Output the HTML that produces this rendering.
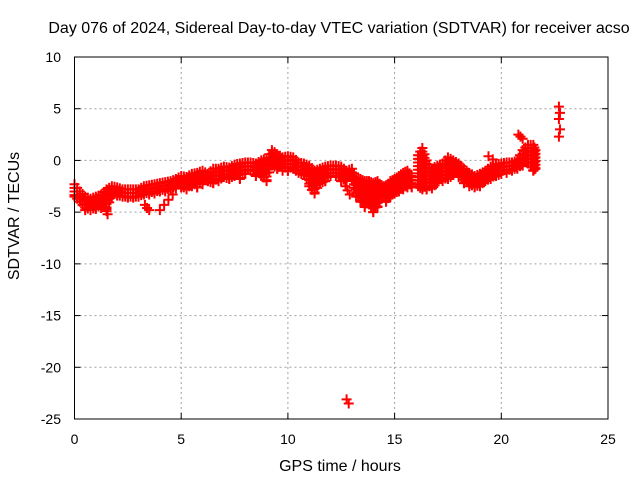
<!DOCTYPE html>
<html><head><meta charset="utf-8"><style>
html,body{margin:0;padding:0;background:#fff;}
svg{display:block;font-family:"Liberation Sans",sans-serif;}
</style></head><body>
<svg id="chart" width="640" height="480" viewBox="0 0 640 480" xmlns="http://www.w3.org/2000/svg">
<rect width="640" height="480" fill="#fff"/>
<g id="grid"></g>
<g id="points"></g>
<g id="axes"></g>
<text x="339" y="33" font-size="16" text-anchor="middle">Day 076 of 2024, Sidereal Day-to-day VTEC variation (SDTVAR) for receiver acso</text>
<text x="340" y="471" font-size="16" text-anchor="middle">GPS time / hours</text>
<text x="15" y="216" font-size="16" text-anchor="middle" dominant-baseline="middle" transform="rotate(-90 15 216)">SDTVAR / TECUs</text>
</svg>
<script>
const xTicks=[0,5,10,15,20,25];
const yTicks=[10,5,0,-5,-10,-15,-20,-25];
const times=[0,0.25,0.5,0.75,1,1.25,1.5,1.75,2,2.25,2.5,2.75,3,3.25,3.5,3.75,4,4.25,4.5,4.75,5,5.25,5.5,5.75,6,6.25,6.5,6.75,7,7.25,7.5,7.75,8,8.25,8.5,8.75,9,9.25,9.5,9.75,10,10.25,10.5,10.75,11,11.25,11.5,11.75,12,12.25,12.5,12.75,13,13.2,13.4,13.6,13.8,14,14.2,14.4,14.6,14.8,15,15.2,15.4,15.6,15.8,16.1,16.3,16.5,16.75,17,17.25,17.5,17.75,18,18.25,18.5,18.75,19,19.25,19.5,19.75,20,20.25,20.5,20.75,21,21.25,21.5,21.6];
const highs=[-2.3,-3,-3.5,-3.7,-3.5,-3.3,-2.8,-2.5,-2.6,-2.8,-2.8,-2.8,-2.8,-2.5,-2.4,-2.3,-2.2,-2.1,-2,-1.8,-1.5,-1.6,-1.3,-1.2,-1,-1.3,-0.8,-0.8,-0.6,-0.7,-0.4,-0.3,-0.2,-0.2,-0.3,0,0.2,1,0.6,0.3,0.4,0.3,-0.2,-0.3,-0.5,-1,-0.8,-0.6,-0.5,-0.5,-0.6,-1,-0.8,-1.7,-1.8,-2,-2,-2.2,-2,-2.5,-2.5,-2,-1.8,-1.5,-1.2,-1,-1.5,0.5,1.2,0,-0.8,-0.5,-0.3,0.3,0,-0.3,-0.8,-1.2,-1.5,-1.3,-1,-0.6,-0.4,-0.3,-0.2,-0.2,0,1,1.5,1.5,1];
const lows=[-3.5,-4,-4.8,-4.8,-4.7,-4.6,-4.7,-3.5,-3.4,-3.5,-3.6,-3.6,-3.5,-3.3,-3.3,-3.2,-3,-3,-2.8,-2.7,-2.6,-2.8,-2.5,-2.6,-2.3,-2,-2.2,-2,-1.6,-1.8,-1.5,-1.8,-1.3,-1,-1.5,-1.5,-2,-0.5,-0.8,-1,-1,-0.8,-1.2,-1.4,-2.5,-3.2,-2.2,-2,-1.5,-1.5,-2,-2,-1.8,-3.5,-4,-4.5,-4.2,-5,-4.5,-3.5,-4,-3.5,-3.2,-3,-2.8,-2.6,-2.6,-2.5,-2.8,-2.8,-2.7,-2.2,-2,-1.8,-1.4,-1.6,-2.2,-2.5,-2.6,-2.5,-2,-1.8,-1.5,-1.3,-1.2,-1,-0.8,-0.5,-0.3,-1,-0.8];
const extraT=[3.3,3.4,3.5,4.0,4.2,4.4,4.6,12.7,12.8,12.9,19.4,19.6,20.8,20.9,21.0,22.7,22.75,22.7,22.75,22.7,12.75,12.85,1.5,1.55];
const extraV=[-4.3,-4.6,-4.8,-4.8,-4.3,-3.8,-3.3,-2.5,-2.9,-3.3,0.4,0.1,2.5,2.3,2.1,5.2,4.6,4.0,3.0,2.3,-23.1,-23.5,-4.9,-5.2];
const NS='http://www.w3.org/2000/svg';
const X0=74.5,X1=608,Y0=57,Y1=419;
const xs=t=>X0+(t-0)/(25-0)*(X1-X0);
const ys=v=>Y0+(10-v)/(10-(-25))*(Y1-Y0);
function mk(tag,attrs,parent){const e=document.createElementNS(NS,tag);for(const k in attrs)e.setAttribute(k,attrs[k]);parent.appendChild(e);return e;}
const grid=document.getElementById('grid'),axes=document.getElementById('axes'),pts=document.getElementById('points');
xTicks.forEach(t=>{
 const x=xs(t);
 if(t>0&&t<25){const g=mk('line',{x1:x,x2:x,y1:Y0,y2:Y1,stroke:'#a0a0a0','stroke-dasharray':'2,3','stroke-width':1},grid);
 
 }
 mk('line',{x1:x,x2:x,y1:Y1,y2:Y1-6,stroke:'#000'},axes);
 mk('line',{x1:x,x2:x,y1:Y0,y2:Y0+6,stroke:'#000'},axes);
 const l=mk('text',{x:x,y:Y1+25,'font-size':14,'text-anchor':'middle'},axes);l.textContent=t;
 
 
});
yTicks.forEach(v=>{
 const y=ys(v);
 if(v<10&&v>-25){const g=mk('line',{x1:X0,x2:X1,y1:y,y2:y,stroke:'#a0a0a0','stroke-dasharray':'2,3','stroke-width':1},grid);
 
 }
 mk('line',{x1:X0,x2:X0+6,y1:y,y2:y,stroke:'#000'},axes);
 mk('line',{x1:X1,x2:X1-6,y1:y,y2:y,stroke:'#000'},axes);
 const l=mk('text',{x:61,y:y+5,'font-size':14,'text-anchor':'end'},axes);l.textContent=v;
 
 
});
const fr=mk('rect',{x:X0,y:Y0,width:X1-X0,height:Y1-Y0,fill:'none',stroke:'#000','stroke-width':1},axes);


function plus(t,v){
 const x=xs(t),y=ys(v);
 const p=mk('path',{d:`M${x-5} ${y}H${x+5}M${x} ${y-5}V${y+5}`,stroke:'#ff0000','stroke-width':2,fill:'none'},pts);
 
 
}
times.forEach((t,i)=>{
 const hi=highs[i],lo=lows[i];
 for(let v=hi;v>=lo-0.001;v-=0.35)plus(t,v);
 plus(t,lo);
 if(i+1<times.length&&times[i+1]-t<0.3){const tm=(t+times[i+1])/2;const h2=(hi+highs[i+1])/2,l2=(lo+lows[i+1])/2;for(let v=h2;v>=l2-0.001;v-=0.35)plus(tm,v);}
});
extraT.forEach((t,i)=>plus(t,extraV[i]));
</script>
</body></html>
